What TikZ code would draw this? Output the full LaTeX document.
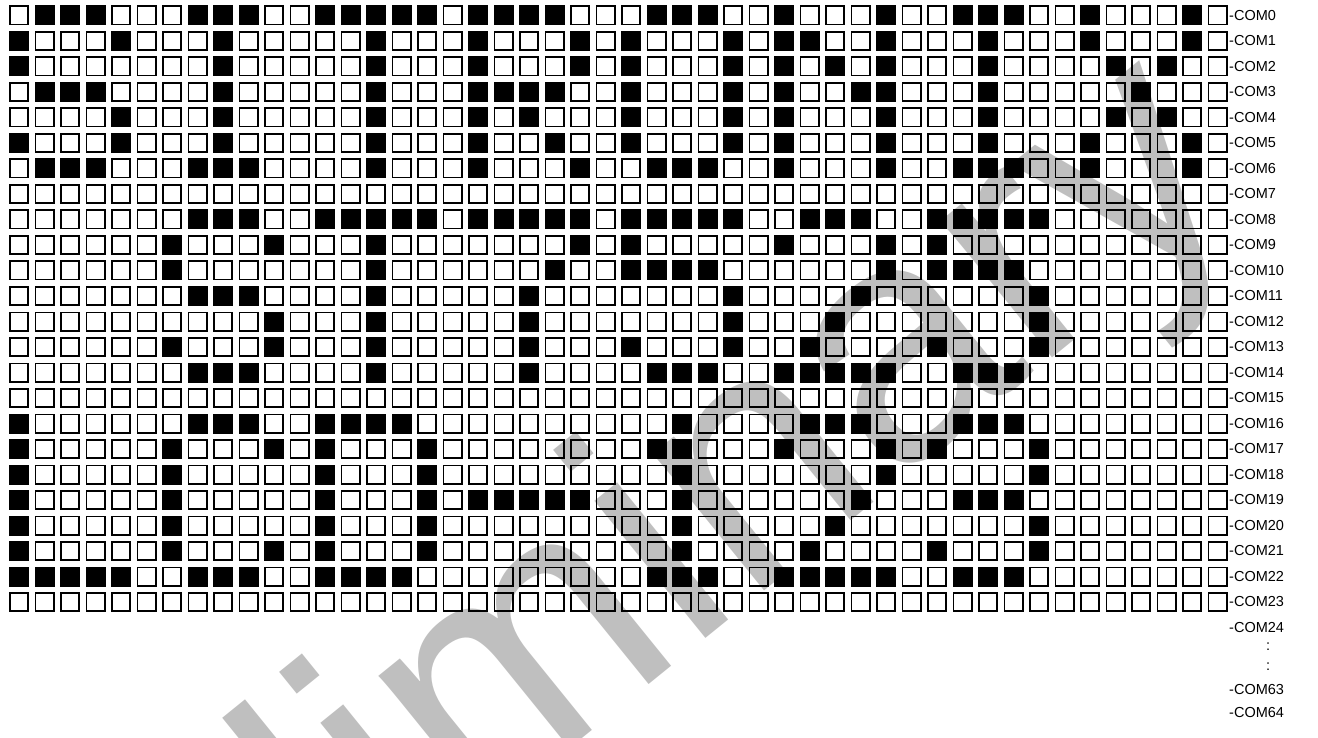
\documentclass[tikz,border=0pt]{standalone}
\usepackage{fontspec}
\setmainfont{Liberation Sans}
\begin{document}
\begin{tikzpicture}[x=1pt,y=-1pt,
  cell/.style={draw=black,line width=1.6pt},
  dot/.style={fill=black},
  lbl/.style={anchor=west,inner sep=0pt,font=\fontsize{14.5}{16}\selectfont},
  wmark/.style={text=black!25,font=\fontsize{334}{334}\selectfont,inner sep=0pt,anchor=base west,rotate=39}]
\useasboundingbox (0,0) rectangle (1318,738);
\begin{scope}
\clip (0,0) rectangle (1318,738);
\node[wmark] (wm) at (-47,1248) {Preliminary};
\end{scope}
\foreach \r in {0,...,23}{
  \foreach \c in {0,...,47}{
    \draw[cell] ({9.8+25.5*\c},{6.3+25.5*\r}) rectangle ++(18.4,18.4);
  }
}
\foreach \r/\cols in {
 0/{1,2,3,7,8,9,12,13,14,15,16,18,19,20,21,25,26,27,30,34,37,38,39,42,46},
 1/{0,4,8,14,18,22,24,28,30,31,34,38,42,46},
 2/{0,8,14,18,22,24,28,30,32,34,38,43,45},
 3/{1,2,3,8,14,18,19,20,21,24,28,30,33,34,38,44},
 4/{4,8,14,18,20,24,28,30,34,38,43,45},
 5/{0,4,8,14,18,21,24,28,30,34,38,42,46},
 6/{1,2,3,7,8,9,14,18,22,25,26,27,30,34,37,38,39,42,46},
 8/{7,8,9,12,13,14,15,16,18,19,20,21,22,24,25,26,27,28,31,32,33,36,37,38,39,40},
 9/{6,10,14,22,24,30,34,36},
 10/{6,14,21,24,25,26,27,34,36,37,38,39},
 11/{7,8,9,14,20,28,33,40},
 12/{10,14,20,28,32,40},
 13/{6,10,14,20,24,28,31,36,40},
 14/{7,8,9,14,20,25,26,27,30,31,32,33,34,37,38,39},
 16/{0,7,8,9,12,13,14,15,26,31,32,33,37,38,39},
 17/{0,6,10,12,16,25,26,30,34,36,40},
 18/{0,6,12,16,26,34,40},
 19/{0,6,12,16,18,19,20,21,22,26,33,37,38,39},
 20/{0,6,12,16,26,32,40},
 21/{0,6,10,12,16,26,31,36,40},
 22/{0,1,2,3,4,7,8,9,12,13,14,15,25,26,27,30,31,32,33,34,37,38,39}}{
  \foreach \c in \cols{
    \fill[dot] ({9+25.5*\c},{5.5+25.5*\r}) rectangle ++(20,20);
  }
}
\foreach \r in {0,...,24}{
  \node[lbl] (com\r) at (1229,{15.5+25.5*\r}) {-COM\r};
}
\node[lbl] (dots1) at (1266,647) {:};
\node[lbl] (dots2) at (1266,667) {:};
\node[lbl] (com63) at (1229,690) {-COM63};
\node[lbl] (com64) at (1229,713) {-COM64};
\end{tikzpicture}
\end{document}
